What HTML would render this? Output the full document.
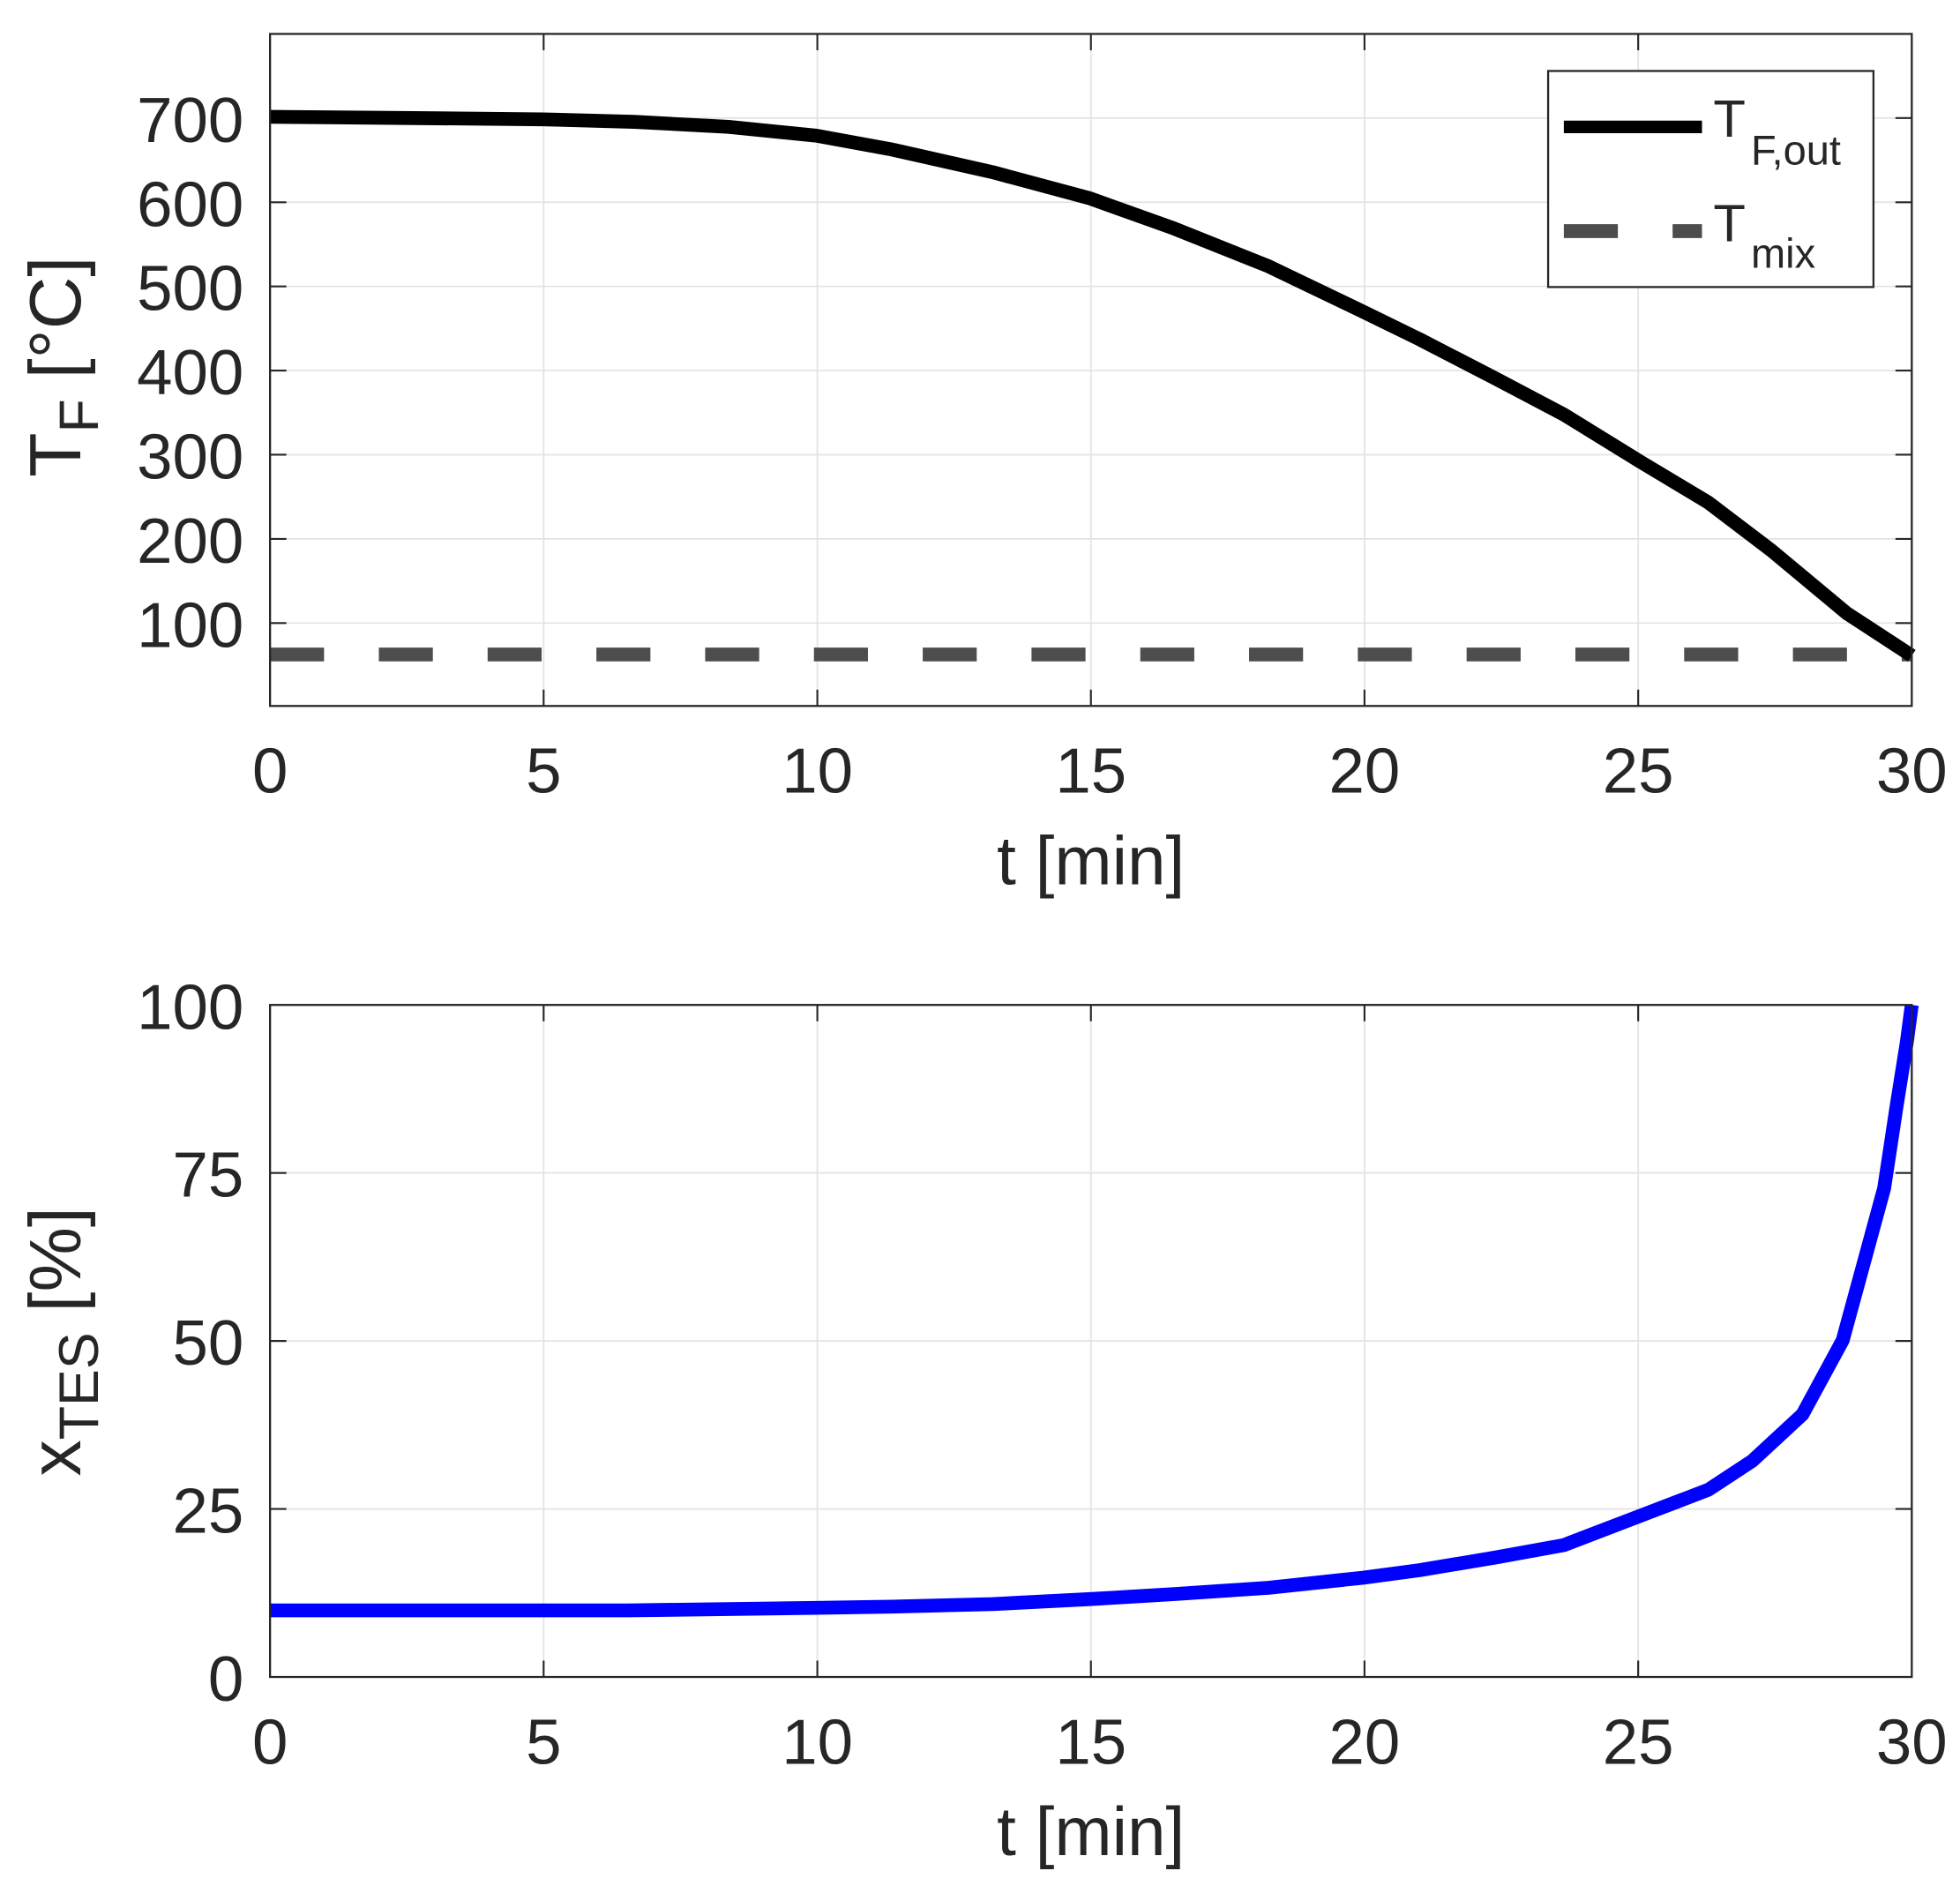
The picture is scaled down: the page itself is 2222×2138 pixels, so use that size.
<!DOCTYPE html>
<html><head><meta charset="utf-8"><style>
html,body{margin:0;padding:0;background:#fff;}
svg{display:block;}
text{font-family:"Liberation Sans",Arial,sans-serif;fill:#262626;}
</style></head><body>
<svg width="2222" height="2138" viewBox="0 0 1560.4 1501.4" preserveAspectRatio="none" xmlns="http://www.w3.org/2000/svg">
<rect width="1560.4" height="1501.4" fill="#fff"/>
<!-- TOP PLOT -->
<g stroke="#e3e3e3" stroke-width="1.2">
<line x1="432.8" y1="27" x2="432.8" y2="562"/><line x1="650.7" y1="27" x2="650.7" y2="562"/>
<line x1="868.5" y1="27" x2="868.5" y2="562"/><line x1="1086.3" y1="27" x2="1086.3" y2="562"/>
<line x1="1304.2" y1="27" x2="1304.2" y2="562"/>
<line x1="215" y1="94" x2="1522" y2="94"/><line x1="215" y1="161" x2="1522" y2="161"/>
<line x1="215" y1="228" x2="1522" y2="228"/><line x1="215" y1="295" x2="1522" y2="295"/>
<line x1="215" y1="362" x2="1522" y2="362"/><line x1="215" y1="429" x2="1522" y2="429"/>
<line x1="215" y1="496" x2="1522" y2="496"/>
</g>
<g stroke="#262626" stroke-width="1.5">
<line x1="432.8" y1="562" x2="432.8" y2="549"/><line x1="650.7" y1="562" x2="650.7" y2="549"/>
<line x1="868.5" y1="562" x2="868.5" y2="549"/><line x1="1086.3" y1="562" x2="1086.3" y2="549"/>
<line x1="1304.2" y1="562" x2="1304.2" y2="549"/>
<line x1="432.8" y1="27" x2="432.8" y2="40"/><line x1="650.7" y1="27" x2="650.7" y2="40"/>
<line x1="868.5" y1="27" x2="868.5" y2="40"/><line x1="1086.3" y1="27" x2="1086.3" y2="40"/>
<line x1="1304.2" y1="27" x2="1304.2" y2="40"/>
<path d="M215 94h13M215 161h13M215 228h13M215 295h13M215 362h13M215 429h13M215 496h13M1522 94h-13M1522 161h-13M1522 228h-13M1522 295h-13M1522 362h-13M1522 429h-13M1522 496h-13"/>
</g>
<line x1="215" y1="521" x2="1522" y2="521" stroke="#4d4d4d" stroke-width="11" stroke-dasharray="43,43.6"/>
<polyline fill="none" stroke="#000" stroke-width="11" stroke-linejoin="round" points="215,93 330,94 432,95 505,97 580,101 650,108 710,119 790,137 868,158 935,182 1010,212 1085,248 1130,270 1190,301 1245,330 1305,367 1360,400 1410,438 1470,488 1522,522"/>
<rect x="215" y="27" width="1307" height="535" fill="none" stroke="#262626" stroke-width="1.6"/>
<!-- legend -->
<rect x="1232.5" y="56.5" width="259" height="172" fill="#fff" stroke="#262626" stroke-width="1.6"/>
<line x1="1245" y1="101" x2="1355" y2="101" stroke="#000" stroke-width="10"/>
<line x1="1245" y1="184" x2="1355" y2="184" stroke="#4d4d4d" stroke-width="11" stroke-dasharray="43,43.6"/>
<text x="1364" y="109" font-size="42" fill="#000">T</text>
<text x="1394" y="131" font-size="33" fill="#000">F,out</text>
<text x="1364" y="192" font-size="42" fill="#000">T</text>
<text x="1394" y="213" font-size="33" fill="#000">mix</text>
<g font-size="51" text-anchor="end">
<text x="194" y="113">700</text><text x="194" y="180">600</text><text x="194" y="247">500</text>
<text x="194" y="314">400</text><text x="194" y="381">300</text><text x="194" y="448">200</text>
<text x="194" y="515">100</text>
</g>
<g font-size="51" text-anchor="middle">
<text x="215" y="631">0</text><text x="432.8" y="631">5</text><text x="650.7" y="631">10</text>
<text x="868.5" y="631">15</text><text x="1086.3" y="631">20</text><text x="1304.2" y="631">25</text>
<text x="1522" y="631">30</text>
<text x="868.5" y="704" font-size="55">t [min]</text>
</g>
<text transform="translate(64,292) rotate(-90)" text-anchor="middle" font-size="58">T<tspan font-size="44" dy="14">F</tspan><tspan dy="-14"> [°C]</tspan></text>

<!-- BOTTOM PLOT -->
<g stroke="#e3e3e3" stroke-width="1.2">
<line x1="432.8" y1="800" x2="432.8" y2="1335"/><line x1="650.7" y1="800" x2="650.7" y2="1335"/>
<line x1="868.5" y1="800" x2="868.5" y2="1335"/><line x1="1086.3" y1="800" x2="1086.3" y2="1335"/>
<line x1="1304.2" y1="800" x2="1304.2" y2="1335"/>
<line x1="215" y1="933.75" x2="1522" y2="933.75"/><line x1="215" y1="1067.5" x2="1522" y2="1067.5"/>
<line x1="215" y1="1201.25" x2="1522" y2="1201.25"/>
</g>
<g stroke="#262626" stroke-width="1.5">
<path d="M432.8 1335v-13M650.7 1335v-13M868.5 1335v-13M1086.3 1335v-13M1304.2 1335v-13M432.8 800v13M650.7 800v13M868.5 800v13M1086.3 800v13M1304.2 800v13"/>
<path d="M215 933.75h13M215 1067.5h13M215 1201.25h13M1522 933.75h-13M1522 1067.5h-13M1522 1201.25h-13"/>
</g>
<polyline fill="none" stroke="#0000ff" stroke-width="11" stroke-linejoin="round" points="215,1282 500,1282 650,1280 710,1279 790,1277 868,1273 935,1269 1010,1264 1085,1256 1130,1250 1190,1240 1245,1230 1305,1207 1360,1186 1395,1163 1435,1126 1467,1067 1500,946 1510,880 1518,830 1522,800"/>
<rect x="215" y="800" width="1307" height="535" fill="none" stroke="#262626" stroke-width="1.6"/>
<g font-size="51" text-anchor="end">
<text x="194" y="819">100</text><text x="194" y="952.75">75</text><text x="194" y="1086.5">50</text>
<text x="194" y="1220.25">25</text><text x="194" y="1354">0</text>
</g>
<g font-size="51" text-anchor="middle">
<text x="215" y="1404">0</text><text x="432.8" y="1404">5</text><text x="650.7" y="1404">10</text>
<text x="868.5" y="1404">15</text><text x="1086.3" y="1404">20</text><text x="1304.2" y="1404">25</text>
<text x="1522" y="1404">30</text>
<text x="868.5" y="1477" font-size="55">t [min]</text>
</g>
<text transform="translate(64,1068) rotate(-90)" text-anchor="middle" font-size="58">x<tspan font-size="44" dy="14">TES</tspan><tspan dy="-14"> [%]</tspan></text>
</svg>
</body></html>
